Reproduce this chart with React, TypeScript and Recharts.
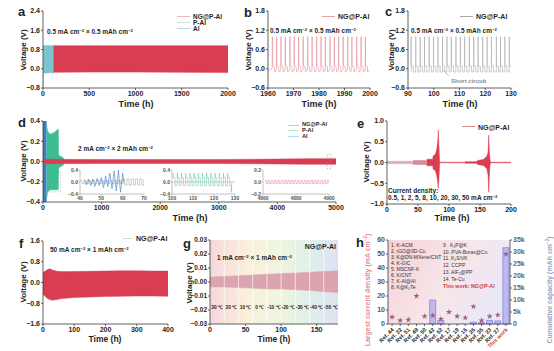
import React from "react";
import {
  Area,
  Bar,
  CartesianGrid,
  ComposedChart,
  Line,
  ReferenceArea,
  ReferenceLine,
  Scatter,
  XAxis,
  YAxis,
  ZAxis,
} from "recharts";

const FONT = '"Liberation Sans", Arial, Helvetica, sans-serif';
const INK = "#1f1f1f";
const RED = "#da3c52";
const TEAL = "#3dbd94";
const BLUE = "#3f7ec4";
const AQUA = "#7cc4cf";
const GREY = "#a9a9a9";

// a: 0.5 mA cm-2, envelopes of the dense cycling traces
const aAlT = [0, 3, 40, 80, 120];
const aAlLo = [-0.8, -0.18, -0.18, -0.17, -0.18];
const aAlHi = [0.97, 0.97, 0.97, 0.97, 0.97];
const aNgT = [115, 500, 1000, 1500, 2000];
const aNgLo = [-0.15, -0.14, -0.14, -0.15, -0.16];
const aNgHi = [0.96, 0.96, 0.96, 0.96, 0.96];

const bLeadT = [1960];
const bLeadV = [-0.07];
const bSpikeT = [
  1961.7, 1963.4, 1965.1, 1966.8, 1968.6, 1970.3, 1972.0, 1973.8, 1975.6, 1977.3, 1979.1,
  1980.8, 1982.5, 1984.3, 1986.0, 1987.7, 1989.5, 1991.3, 1992.9, 1994.8, 1996.5, 1998.2,
];
const bShapeDt = [-0.05, 0, 0.06, 0.8, 0.86, 1.6];
const bShapeV = [0.02, 1.0, 0.12, 0.04, -0.1, -0.06];

// c
const cSpikeT = [
  91.2, 93.0, 94.7, 96.4, 98.2, 99.9, 101.6, 103.4, 105.1, 106.8, 108.6, 110.3, 112.0,
  113.8, 115.5, 117.2, 119.0, 120.7, 122.4, 124.3, 125.9, 127.6, 129.3,
];
const cShapeDt = [0, 0.02, 0.05, 0.86, 0.88];
const cShapeV = [-0.1, 1.0, 0.08, 0.08, -0.1];

// d: 2 mA cm-2
const dAlT = [0, 30, 62];
const dAlLo = [-0.4, -0.4, -0.4];
const dAlHi = [0.4, 0.4, 0.4];
const dPT = [60, 80, 120, 160, 200, 240, 262, 266, 300, 340, 360];
const dPLo = [-0.38, -0.3, -0.28, -0.28, -0.28, -0.28, -0.28, -0.07, -0.05, -0.04, -0.02];
const dPHi = [0.36, 0.3, 0.27, 0.28, 0.29, 0.31, 0.32, 0.07, 0.05, 0.04, 0.02];
const dNgT = [0, 1000, 2000, 3000, 4000, 4500, 5000];
const dNgLo = [-0.022, -0.02, -0.02, -0.02, -0.024, -0.028, -0.028];
const dNgHi = [0.022, 0.02, 0.02, 0.02, 0.024, 0.028, 0.028];

// d insets
const in1GreyT = [
  40, 41, 42, 43, 44, 45, 46, 47, 48, 49, 50, 51, 52, 53, 54, 55, 56, 57, 58, 59, 60, 61, 62,
  63, 64, 65, 66, 67, 68, 69, 70,
];
const in1GreyV = [
  0.05, -0.05, 0.05, -0.05, 0.05, -0.05, 0.05, -0.05, 0.05, -0.05, 0.05, -0.05, 0.05, -0.05,
  0.05, -0.05, 0.05, -0.05, 0.05, -0.05, 0.1, -0.1, 0.1, -0.1, 0.1, -0.1, 0.1, -0.1, 0.1, -0.1,
  0.1,
];
const in1BlueT = [42, 43, 44, 45, 46, 47, 48, 49, 50, 51, 52, 53, 54, 55, 56, 57, 58, 59, 60, 60.6];
const in1BlueV = [
  0.08, -0.1, 0.1, -0.12, 0.1, -0.15, 0.12, -0.12, 0.15, -0.2, 0.2, -0.16, 0.3, -0.22, 0.37,
  -0.3, 0.4, -0.34, 0.3, -0.05,
];
const in2Start = [100.5, 102.5, 104.5, 106.5, 108.5, 110.5, 112.5, 114.5, 116.5, 118.5, 120.5, 122.5, 124.5, 126.5];
const in2ShapeDt = [0, 0.15, 0.95, 1.0, 1.95];
const in2ShapeV = [0.3, 0.15, 0.15, -0.12, -0.12];
const in2TailT = [128.2, 128.5];
const in2TailV = [-0.35, 0];
const in2ZeroT = [100, 130];
const in2ZeroV = [0, 0];
const in3T = [
  4861, 4862, 4863, 4864, 4865, 4866, 4867, 4868, 4869, 4870, 4871, 4872, 4873, 4874, 4875,
  4876, 4877, 4878, 4879, 4880, 4881, 4882, 4883, 4884, 4885, 4886, 4887, 4888, 4889, 4890,
  4891, 4892, 4893, 4894, 4895, 4896, 4897, 4898, 4899, 4900,
];
const in3V = [
  0.025, -0.025, 0.025, -0.025, 0.025, -0.025, 0.025, -0.025, 0.025, -0.025, 0.025, -0.025,
  0.025, -0.025, 0.025, -0.025, 0.025, -0.025, 0.025, -0.025, 0.025, -0.025, 0.025, -0.025,
  0.025, -0.025, 0.025, -0.025, 0.025, -0.025, 0.025, -0.025, 0.025, -0.025, 0.025, -0.025,
  0.025, -0.025, 0.025, -0.025,
];

// e: rate test
const e1T = [0, 42];
const e1Lo = [-0.03, -0.03];
const e1Hi = [0.03, 0.03];
const e2T = [42, 64];
const e2Lo = [-0.05, -0.05];
const e2Hi = [0.05, 0.05];
const e3T = [64, 74, 74.1, 78, 80, 81, 82, 82.8, 83.6, 84.5, 85, 125, 126, 145, 146, 155, 158, 161, 163, 164.2, 165, 166, 167, 200];
const e3Hi = [0.08, 0.08, 0.15, 0.2, 0.3, 0.4, 0.55, 0.78, 0.45, 0.15, 0.005, 0.005, 0.02, 0.02, 0.05, 0.07, 0.1, 0.15, 0.25, 0.66, 0.3, 0.08, 0.005, 0.005];
const e3Lo = [-0.08, -0.08, -0.15, -0.2, -0.3, -0.4, -0.5, -0.62, -0.45, -0.15, -0.005, -0.005, -0.02, -0.02, -0.05, -0.07, -0.1, -0.15, -0.3, -0.72, -0.35, -0.08, -0.005, -0.005];

// f: 50 mA cm-2
const fT = [0, 8, 15, 22, 30, 45, 60, 100, 150, 200, 250, 300, 350, 400];
const fHi = [0.38, 0.45, 0.5, 0.53, 0.48, 0.43, 0.42, 0.42, 0.43, 0.44, 0.45, 0.45, 0.44, 0.44];
const fLo = [-0.45, -0.55, -0.62, -0.66, -0.68, -0.66, -0.62, -0.58, -0.56, -0.54, -0.53, -0.52, -0.52, -0.53];

// g: temperature steps
const gT = [0, 20, 40, 60, 80, 100, 120, 140, 160, 180];
const gHi = [0.0035, 0.004, 0.0045, 0.005, 0.0055, 0.006, 0.0065, 0.007, 0.0075, 0.008];
const gLo = [-0.0035, -0.0035, -0.004, -0.0045, -0.005, -0.005, -0.0055, -0.006, -0.007, -0.0075];
const gTemps = ["30 ℃", "20 ℃", "10 ℃", "0 ℃", "-10 ℃", "-20 ℃", "-30 ℃", "-40 ℃", "-50 ℃"];
const gEdges = [0, 20, 40, 60, 80, 100, 120, 140, 160, 180];

// h: comparison
const hRefs = [
  "Ref. 44", "Ref. 32", "Ref. 51", "Ref. 49", "Ref. 50", "Ref. 42", "Ref. 52", "Ref. 17",
  "Ref. 19", "Ref. 16", "Ref. 26", "Ref. 35", "Ref. 23", "Ref. 37", "This work",
];
const hCurrent = [5, 2.5, 3, 20, 5.5, 6, 3.5, 8.5, 5.5, 4.5, 12.5, 2.5, 5.5, 6.5, 50];
const hCapacity = [0, 0, 0, 0, 0, 10000, 1500, 0, 0, 0, 800, 600, 1500, 1300, 31800];
const hListA = ["1.  K-ACM", "2.  rGO@3D-Cu", "3.  K@DN-MXene/CNT", "4.  K-GIC", "5.  MSCNF-K", "6.  K/CNT", "7.  K-Al@Al", "8.  K@K₂Te"];
const hListB = ["9 .  K₃P@K", "10.  PVA-Borax@Cu", "11.  K₂S/VK", "12.  CCPP", "13.  AlF₃@PP", "14.  Te-Cu"];

const range = (t: number[], lo: number[], hi: number[]) => t.map((x, i) => ({ t: x, r: [lo[i], hi[i]] }));
const pts = (t: number[], v: number[]) => t.map((x, i) => ({ t: x, v: v[i] }));
const cycles = (starts: number[], dt: number[], v: number[]) =>
  starts.flatMap((s) => dt.map((d, j) => ({ t: +(s + d).toFixed(3), v: v[j] })));

const f1 = (v: number) => (v < 0 ? "−" : "") + Math.abs(v).toFixed(1);
const f2 = (v: number) => (v < 0 ? "−" : "") + Math.abs(v).toFixed(2);
const kFmt = (v: number) => (v === 0 ? "0" : `${v / 1000}k`);

const TICK = { fontSize: 7, fontWeight: 700, fill: INK, fontFamily: FONT };
const ITICK = { fontSize: 5, fontWeight: 700, fill: "#555", fontFamily: FONT };
const AX = { stroke: "#3a3a3a", strokeWidth: 0.8 };
const IAX = { stroke: "#9a9a9a", strokeWidth: 0.6 };

function band(key: string, data: any[], color: string) {
  return (
    <Area key={key} data={data} dataKey="r" type="linear" stroke={color} strokeWidth={0.5} fill={color}
      fillOpacity={1} dot={false} activeDot={false} isAnimationActive={false} />
  );
}

function trace(key: string, data: any[], color: string, type: any = "linear", sw = 0.7) {
  return (
    <Line key={key} data={data} dataKey="v" type={type} stroke={color} strokeWidth={sw}
      dot={false} activeDot={false} isAnimationActive={false} />
  );
}

function Panel({ x, y, w, h, l = 30, r = 12, t = 6, b = 16, xd, xt, yd, yt, yf = f1, yTick = TICK, children }: any) {
  return (
    <div style={{ position: "absolute", left: x - l, top: y - t }}>
      <ComposedChart width={w + l + r} height={h + t + b} margin={{ top: t, right: r, left: 0, bottom: 0 }}>
        {children}
        <XAxis dataKey="t" type="number" domain={xd} ticks={xt} interval={0} allowDataOverflow height={b}
          tickSize={2} tickMargin={1} tick={TICK} axisLine={AX} tickLine={AX} />
        <YAxis type="number" domain={yd} ticks={yt} interval={0} allowDataOverflow width={l}
          tickSize={2} tickMargin={1} tick={yTick} axisLine={AX} tickLine={AX} tickFormatter={yf} />
        <XAxis xAxisId="top" orientation="top" type="number" domain={xd} height={0} tick={false} tickLine={false} axisLine={AX} />
        <YAxis yAxisId="right" orientation="right" type="number" domain={yd} width={0} tick={false} tickLine={false} axisLine={AX} />
      </ComposedChart>
    </div>
  );
}

function Inset({ x, y, w, h, xd, xt, yd, yt, children }: any) {
  const l = 14;
  const b = 9;
  return (
    <div style={{ position: "absolute", left: x - l, top: y - 3 }}>
      <ComposedChart width={w + l + 8} height={h + 3 + b} margin={{ top: 3, right: 8, left: 0, bottom: 0 }}>
        {children}
        <XAxis dataKey="t" type="number" domain={xd} ticks={xt} interval={0} allowDataOverflow height={b}
          tickSize={1.5} tickMargin={1.3} tick={ITICK} axisLine={IAX} tickLine={IAX} />
        <YAxis type="number" domain={yd} ticks={yt} interval={0} allowDataOverflow width={l}
          tickSize={1.5} tickMargin={0.5} tick={ITICK} axisLine={IAX} tickLine={IAX} tickFormatter={f1} />
      </ComposedChart>
    </div>
  );
}

function T({ x, y, s = 7, c = INK, a = "l", rot = false, w = 700, children }: any) {
  const tx = a === "c" ? "-50%" : a === "r" ? "-100%" : "0";
  return (
    <div
      style={{
        position: "absolute", left: x, top: y,
        transform: `translate(${tx}, -50%)${rot ? " rotate(-90deg)" : ""}`,
        fontSize: s, color: c, fontWeight: w, fontFamily: FONT, lineHeight: 1, whiteSpace: "nowrap",
      }}
    >
      {children}
    </div>
  );
}

const Sup = ({ children }: any) => (
  <sup style={{ fontSize: "0.65em", verticalAlign: "0.5em", lineHeight: 0 }}>{children}</sup>
);

function Key({ x, y, color, label, len = 13, s = 7 }: any) {
  return (
    <>
      <div style={{ position: "absolute", left: x, top: y - 0.5, width: len, height: 1, background: color }} />
      <T x={x + len + 3} y={y} s={s}>{label}</T>
    </>
  );
}

function RefTick({ x, y, payload }: any) {
  const own = payload.value === "This work";
  return (
    <text x={x} y={y} dy={3} textAnchor="end" transform={`rotate(-45 ${x} ${y})`} fontSize={5.5}
      fontWeight={700} fill={own ? "#d23a3a" : INK} fontFamily={FONT}>
      {payload.value}
    </text>
  );
}

const VT = "Voltage (V)";

export default function App() {
  const bData = [...pts(bLeadT, bLeadV), ...cycles(bSpikeT, bShapeDt, bShapeV)];
  const cData = cycles(cSpikeT, cShapeDt, cShapeV);
  const in2Data = [...cycles(in2Start, in2ShapeDt, in2ShapeV), ...pts(in2TailT, in2TailV)];
  const hData = hRefs.map((study, i) => ({ study, cur: hCurrent[i], cap: hCapacity[i] }));

  return (
    <div style={{ position: "absolute", left: 0, top: 0, width: 554, height: 351, background: "#fff", overflow: "hidden", fontFamily: FONT }}>
      {/* a */}
      <Panel x={43} y={11} w={185} h={77} xd={[0, 2000]} xt={[0, 500, 1000, 1500, 2000]} yd={[-0.8, 2.4]} yt={[-0.8, 0, 0.8, 1.6, 2.4]}>
        {band("al", range(aAlT, aAlLo, aAlHi), AQUA)}
        {band("ng", range(aNgT, aNgLo, aNgHi), RED)}
      </Panel>
      <T x={18} y={11} s={13}>a</T>
      <T x={24} y={50} s={8} a="c" rot>{VT}</T>
      <T x={136} y={104} s={9} a="c">Time (h)</T>
      <Key x={177} y={16.5} color="#f0b7bf" label="NG@P-Al" s={6.5} />
      <Key x={177} y={22.7} color="#bfe6cf" label="P-Al" s={6.5} />
      <Key x={177} y={28.9} color="#b5d9e6" label="Al" s={6.5} />
      <T x={47} y={31.5} s={6.5}>0.5 mA cm<Sup>−2</Sup> × 0.5 mAh cm<Sup>−2</Sup></T>

      {/* b */}
      <Panel x={268} y={11} w={102} h={77} xd={[1960, 2000]} xt={[1960, 1970, 1980, 1990, 2000]} yd={[-0.6, 1.8]} yt={[-0.6, 0, 0.6, 1.2, 1.8]}>
        {trace("b", bData, "#e38b97", "linear", 0.6)}
      </Panel>
      <T x={244} y={12} s={13}>b</T>
      <T x={249} y={50} s={8} a="c" rot>{VT}</T>
      <T x={319} y={104} s={9} a="c">Time (h)</T>
      <Key x={322} y={16} color="#e7a3ad" label="NG@P-Al" />
      <T x={270} y={30.5} s={6.5}>0.5 mA cm<Sup>−2</Sup> × 0.5 mAh cm<Sup>−2</Sup></T>

      {/* c */}
      <Panel x={408} y={11} w={103} h={77} xd={[90, 130]} xt={[90, 100, 110, 120, 130]} yd={[-0.6, 1.8]} yt={[-0.6, 0, 0.6, 1.2, 1.8]}>
        {trace("c", cData, GREY, "linear", 0.6)}
        <ReferenceLine segment={[{ x: 103.6, y: -0.03 }, { x: 105.8, y: -0.22 }]} stroke="#8a8a8a" strokeWidth={0.6} />
      </Panel>
      <T x={385} y={11} s={13}>c</T>
      <T x={392} y={50} s={8} a="c" rot>{VT}</T>
      <T x={460} y={104} s={9} a="c">Time (h)</T>
      <Key x={460} y={16} color={GREY} label="NG@P-Al" />
      <T x={411} y={30.5} s={6.5}>0.5 mA cm<Sup>−2</Sup> × 0.5 mAh cm<Sup>−2</Sup></T>
      <T x={451} y={80.5} s={6} c="#8a8a8a">Short circuit</T>

      {/* d */}
      <Panel x={43} y={121} w={293} h={81} b={17} xd={[0, 5000]} xt={[0, 1000, 2000, 3000, 4000, 5000]} yd={[-0.4, 0.4]} yt={[-0.4, -0.2, 0, 0.2, 0.4]}>
        {band("al", range(dAlT, dAlLo, dAlHi), BLUE)}
        {band("p", range(dPT, dPLo, dPHi), TEAL)}
        {band("ng", range(dNgT, dNgLo, dNgHi), RED)}
        <ReferenceArea x1={100} x2={300} y1={-0.3} y2={-0.1} fill="none" stroke="#8a8a8a" strokeWidth={0.5} strokeDasharray="1.5 1.5" />
        <ReferenceArea x1={4850} x2={4915} y1={-0.07} y2={0.07} fill="none" stroke="#8a8a8a" strokeWidth={0.5} strokeDasharray="1.5 1.5" />
      </Panel>
      <Inset x={80} y={170} w={64} h={24} xd={[40, 70]} xt={[40, 50, 60, 70]} yd={[-0.4, 0.4]} yt={[-0.4, 0, 0.4]}>
        {trace("g", pts(in1GreyT, in1GreyV), "#9a9a9a", "stepAfter", 0.5)}
        {trace("bl", pts(in1BlueT, in1BlueV), BLUE, "linear", 0.6)}
      </Inset>
      <Inset x={172} y={170} w={63} h={24} xd={[100, 130]} xt={[100, 110, 120, 130]} yd={[-0.4, 0.4]} yt={[-0.4, 0, 0.4]}>
        {trace("z", pts(in2ZeroT, in2ZeroV), "#e4a2ab", "linear", 0.6)}
        {trace("p", in2Data, "#58c7a3", "linear", 0.5)}
      </Inset>
      <Inset x={263} y={170} w={66} h={24} xd={[4860, 4900]} xt={[4860, 4880, 4900]} yd={[-0.2, 0.2]} yt={[-0.2, 0, 0.2]}>
        {trace("r", pts(in3T, in3V), "#e07b8a", "stepAfter", 0.5)}
      </Inset>
      <T x={18} y={122} s={13}>d</T>
      <T x={24} y={161} s={8} a="c" rot>{VT}</T>
      <T x={190} y={218} s={9} a="c">Time (h)</T>
      <T x={78} y={149} s={6.5}>2 mA cm<Sup>−2</Sup> × 2 mAh cm<Sup>−2</Sup></T>
      <Key x={288} y={125.2} color="#f0b7bf" label="NG@P-Al" len={11} s={5.6} />
      <Key x={288} y={130.9} color="#bfe6cf" label="P-Al" len={11} s={5.6} />
      <Key x={288} y={136.6} color="#b5d9e6" label="Al" len={11} s={5.6} />

      {/* e */}
      <Panel x={387} y={121} w={124} h={83} xd={[0, 200]} xt={[0, 50, 100, 150, 200]} yd={[-1, 1]} yt={[-1, -0.5, 0, 0.5, 1]}>
        {band("e1", range(e1T, e1Lo, e1Hi), "#dcaab0")}
        {band("e2", range(e2T, e2Lo, e2Hi), "#d58a96")}
        {band("e3", range(e3T, e3Lo, e3Hi), RED)}
      </Panel>
      <T x={357} y={123} s={13}>e</T>
      <T x={367} y={162} s={8} a="c" rot>{VT}</T>
      <T x={452} y={218} s={9} a="c">Time (h)</T>
      <Key x={462} y={126.7} color="#e08f9a" label="NG@P-Al" />
      <T x={388} y={191} s={6.5}>Current density:</T>
      <T x={388} y={197.5} s={6.5}>0.5, 1, 2, 5, 8, 10, 20, 30, 50 mA cm<Sup>−2</Sup></T>

      {/* f */}
      <Panel x={43} y={241} w={125} h={83} xd={[0, 400]} xt={[0, 100, 200, 300, 400]} yd={[-1.6, 1.6]} yt={[-1.6, -0.8, 0, 0.8, 1.6]}>
        {band("f", range(fT, fLo, fHi), RED)}
      </Panel>
      <T x={19} y={243} s={13}>f</T>
      <T x={24} y={282} s={8} a="c" rot>{VT}</T>
      <T x={105} y={339} s={8.5} a="c">Time (h)</T>
      <Key x={123} y={238} color="#d8d8d8" label="NG@P-Al" len={10} s={7} />
      <T x={50} y={249.5} s={6.5}>50 mA cm<Sup>−2</Sup> × 1 mAh cm<Sup>−2</Sup></T>

      {/* g */}
      <Panel x={210} y={240} w={128} h={84} l={26} xd={[0, 180]} xt={[0, 50, 100, 150]} yd={[-0.03, 0.03]}
        yt={[-0.03, -0.02, -0.01, 0, 0.01, 0.02, 0.03]} yf={f2} yTick={{ ...TICK, fontSize: 6.5 }}>
        <defs>
          <linearGradient id="gbg" x1="0" y1="0" x2="1" y2="0">
            <stop offset="0%" stopColor="#f6d8dd" />
            <stop offset="30%" stopColor="#fbf0da" />
            <stop offset="55%" stopColor="#eef5df" />
            <stop offset="78%" stopColor="#dff0ea" />
            <stop offset="100%" stopColor="#dde2f4" />
          </linearGradient>
        </defs>
        <CartesianGrid horizontal={false} vertical={false} fill="url(#gbg)" />
        {band("g", range(gT, gLo, gHi), "#dba4ae")}
        {gEdges.slice(1, -1).map((e) => (
          <ReferenceLine key={e} x={e} stroke="#ffffff" strokeOpacity={0.85} strokeWidth={0.8} />
        ))}
        {gTemps.map((lab, i) => (
          <ReferenceArea key={lab} x1={gEdges[i]} x2={gEdges[i + 1]} y1={-0.03} y2={0.03} fill="none" fillOpacity={0}
            label={{ value: lab, position: "insideBottom", offset: 15, fontSize: 4.8, fontWeight: 700, fill: INK, fontFamily: FONT }} />
        ))}
      </Panel>
      <T x={183} y={243} s={13}>g</T>
      <T x={190} y={283} s={8} a="c" rot>{VT}</T>
      <T x={274} y={339} s={8.5} a="c">Time (h)</T>
      <T x={336} y={246} s={7} a="r">NG@P-Al</T>
      <T x={217} y={258} s={6.5}>1 mA cm<Sup>−2</Sup> × 1 mAh cm<Sup>−2</Sup></T>

      {/* h */}
      <div style={{ position: "absolute", left: 388 - 16, top: 240 - 6 }}>
        <ComposedChart width={122 + 16 + 20} height={84 + 6 + 28} data={hData} margin={{ top: 6, right: 0, left: 0, bottom: 0 }}>
          <defs>
            <linearGradient id="hbg" x1="0" y1="0" x2="1" y2="0.4">
              <stop offset="0%" stopColor="#f5d2d8" />
              <stop offset="60%" stopColor="#f7e6ea" />
              <stop offset="100%" stopColor="#ebe8f6" />
            </linearGradient>
          </defs>
          <CartesianGrid horizontal={false} vertical={false} fill="url(#hbg)" />
          <Bar yAxisId="cap" dataKey="cap" barSize={6} fill="#8d8be6" fillOpacity={0.5} stroke="#6e6bd6"
            strokeWidth={0.6} isAnimationActive={false} />
          <Scatter yAxisId="cur" dataKey="cur" shape="star" fill="#a0607c" isAnimationActive={false} />
          <ZAxis range={[12, 12]} />
          <XAxis dataKey="study" type="category" interval={0} height={28} tickSize={2} tick={<RefTick />} axisLine={AX} tickLine={AX} />
          <XAxis xAxisId="top" orientation="top" dataKey="study" type="category" height={0} tick={false} tickLine={false} axisLine={AX} />
          <YAxis yAxisId="cur" type="number" domain={[0, 60]} ticks={[0, 10, 20, 30, 40, 50, 60]} interval={0} width={16}
            tickSize={2} tickMargin={1} tick={{ ...TICK, fill: "#555" }} axisLine={AX} tickLine={AX} />
          <YAxis yAxisId="cap" orientation="right" type="number" domain={[0, 35000]}
            ticks={[0, 5000, 10000, 15000, 20000, 25000, 30000, 35000]} interval={0} width={20}
            tickSize={2} tickMargin={1} tick={{ ...TICK, fill: "#666" }} axisLine={AX} tickLine={AX} tickFormatter={kFmt} />
        </ComposedChart>
      </div>
      <T x={356} y={242} s={13}>h</T>
      <T x={367} y={290} s={7} c="#e58c9b" a="c" rot>Largest current density (mA cm<Sup>−2</Sup>)</T>
      <T x={549} y={290} s={7} c="#98a2c8" a="c" rot>Cumulative capacity (mAh cm<Sup>−2</Sup>)</T>
      {hListA.map((s, i) => (
        <T key={s} x={391} y={245 + i * 6} s={5} w={400} c="#333">{s}</T>
      ))}
      {hListB.map((s, i) => (
        <T key={s} x={443} y={245 + i * 6.7} s={5} w={400} c="#333">{s}</T>
      ))}
      <T x={443} y={287.3} s={5.3} c="#d23a3a">This work: NG@P-Al</T>
    </div>
  );
}
